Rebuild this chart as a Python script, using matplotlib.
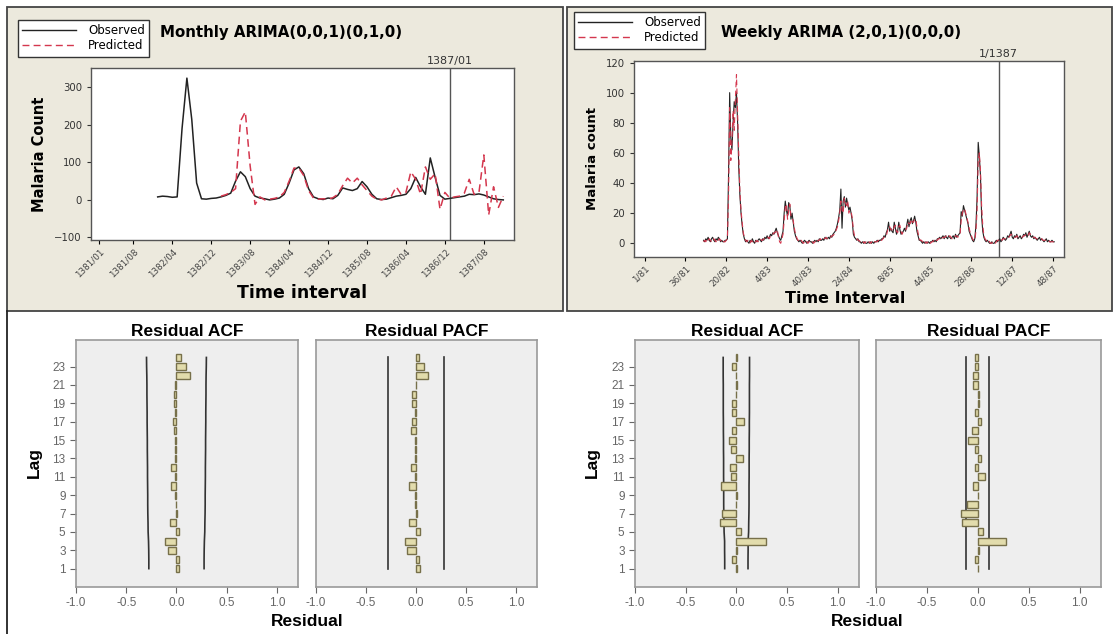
import numpy as np
import matplotlib.pyplot as plt
from matplotlib.patches import Rectangle
from matplotlib.lines import Line2D

W, H = 1118, 634

# ---- monthly series (month index 0 = 1381/01) ----
month_start_obs = 12
monthly_observed = [8, 10, 9, 7, 8, 190, 325, 215, 45, 3,
                    2, 4, 5, 8, 12, 18, 50, 75, 62, 30,
                    10, 5, 3, 0, 2, 5, 15, 45, 80, 88,
                    70, 30, 8, 3, 1, 5, 3, 12, 32, 28,
                    25, 30, 49, 35, 15, 3, 1, 2, 6, 10,
                    12, 15, 30, 60, 35, 15, 112, 60, 12, 2,
                    4, 6, 8, 10, 15, 14, 16, 13, 8, 3,
                    1, 0]
month_start_pred = 25
monthly_predicted = [10, 14, 20, 30, 210, 235, 90, -12, 8, 0,
                     2, 4, 8, 20, 50, 85, 85, 65, 25, 5,
                     2, 3, 2, 6, 15, 38, 58, 45, 58, 40,
                     25, 10, 2, 0, 5, 10, 35, 15, 20, 75,
                     55, 15, 88, 55, 70, -25, 20, 5, 8, 10,
                     18, 55, 15, 20, 120, -40, 35, -20, 10]
month_tick_pos = [0, 7, 15, 23, 31, 39, 47, 55, 63, 71, 79]
month_tick_labels = ['1381/01', '1381/08', '1382/04', '1382/12', '1383/08',
                     '1384/04', '1384/12', '1385/08', '1386/04', '1386/12',
                     '1387/08']
month_split = 72

# ---- weekly series (week index 0 = 1/81) ----
week_start = 52
weekly_observed = [2, 1, 3, 2, 4, 2, 1, 3, 4, 2,
                   1, 3, 2, 4, 3, 1, 2, 1, 1, 2,
                   2, 3, 45, 100, 70, 62, 80, 94, 90, 100,
                   80, 50, 32, 20, 12, 6, 3, 1, 2,
                   1, 0, 2, 1, 3, 1, 0, 2, 1, 2,
                   3, 2, 1, 3, 2, 4, 3, 5, 3, 4,
                   6, 5, 7, 6, 8, 10, 7, 5, 3, 2,
                   5, 8, 20, 28, 22, 18, 27, 25, 16, 20,
                   14, 8, 5, 3, 2, 1, 2, 1, 0, 1,
                   2, 1, 0, 1, 2, 1, 1, 0, 1, 2,
                   1, 2, 1, 3, 2, 2, 3, 2, 4, 3,
                   3, 4, 3, 5, 4, 6, 7, 8, 10, 13,
                   17, 22, 36, 10, 28, 31, 24, 30, 26, 22,
                   24, 20, 15, 6, 4, 3, 2, 3, 1, 1,
                   0, 1, 0, 1, 0, 0, 1, 0, 1, 0,
                   1, 0, 1, 1, 2, 1, 2, 2, 3, 3,
                   5, 4, 7, 9, 14, 8, 10, 8, 7, 14,
                   10, 6, 8, 14, 9, 6, 7, 8, 10, 8,
                   12, 16, 11, 15, 17, 13, 15, 18, 14, 8,
                   5, 2, 2, 1, 0, 1, 0, 1, 0, 1,
                   0, 1, 1, 2, 1, 2, 1, 3, 3, 4,
                   3, 4, 5, 3, 5, 4, 3, 5, 4, 3,
                   4, 5, 3, 6, 4, 5, 6, 7, 21, 18,
                   25, 22, 19, 16, 13, 8, 6, 4, 2, 1,
                   3, 12, 30, 67, 58, 45, 18, 8, 4, 2,
                   1, 2, 1, 0, 0, 1, 0, 0, 1, 2,
                   1, 2, 3, 1, 2, 4, 3, 2, 3, 5,
                   4, 6, 8, 4, 3, 5, 4, 6, 3, 4,
                   5, 3, 4, 6, 5, 7, 4, 6, 8, 5,
                   4, 5, 3, 4, 3, 2, 3, 4, 2, 3,
                   2, 1, 2, 3, 1, 2, 1, 1, 2, 1, 1]
weekly_predicted = [1, 2, 1, 3, 2, 3, 2, 1, 2, 3,
                    2, 1, 3, 2, 3, 2, 1, 2, 1, 1,
                    2, 3, 30, 90, 55, 68, 88, 75, 95, 112,
                    85, 60, 35, 22, 14, 7, 4, 2, 1,
                    2, 1, 0, 2, 1, 2, 1, 1, 2, 1,
                    2, 3, 2, 2, 3, 3, 4, 4, 4, 3,
                    5, 6, 6, 7, 7, 8, 9, 4, 1, 0,
                    3, 6, 15, 24, 26, 16, 22, 26, 18, 17,
                    15, 10, 6, 4, 2, 2, 1, 2, 1, 0,
                    1, 2, 1, 0, 1, 2, 1, 1, 0, 1,
                    2, 1, 2, 2, 3, 2, 2, 3, 3, 4,
                    3, 3, 4, 4, 5, 5, 6, 7, 9, 11,
                    15, 20, 28, 22, 20, 30, 27, 25, 28, 20,
                    22, 21, 17, 9, 5, 4, 3, 2, 2, 1,
                    1, 0, 1, 0, 1, 0, 0, 1, 0, 1,
                    0, 1, 1, 1, 1, 2, 1, 2, 2, 3,
                    4, 5, 5, 8, 11, 11, 9, 9, 8, 11,
                    12, 8, 7, 11, 12, 8, 6, 8, 9, 9,
                    10, 14, 13, 13, 16, 14, 14, 16, 16, 11,
                    7, 3, 2, 2, 1, 0, 1, 0, 1, 0,
                    1, 0, 1, 1, 2, 1, 2, 2, 3, 3,
                    4, 3, 4, 4, 4, 5, 4, 4, 5, 4,
                    3, 4, 4, 5, 5, 4, 5, 6, 15, 20,
                    22, 23, 20, 17, 14, 10, 7, 5, 3, 2,
                    2, 8, 22, 55, 60, 48, 25, 12, 5, 3,
                    2, 1, 2, 1, 0, 0, 1, 0, 0, 1,
                    2, 2, 2, 3, 2, 3, 3, 3, 3, 4,
                    4, 5, 6, 5, 4, 4, 4, 5, 4, 4,
                    4, 4, 4, 5, 5, 6, 5, 5, 7, 6,
                    5, 4, 4, 4, 3, 3, 3, 3, 3, 3,
                    2, 2, 2, 2, 2, 2, 1, 1, 1, 1, 1]
week_tick_pos = [0, 36, 72, 108, 144, 180, 216, 252, 288, 324, 360]
week_tick_labels = ['1/81', '36/81', '20/82', '4/83', '40/83', '24/84',
                    '8/85', '44/85', '28/86', '12/87', '48/87']
week_split = 312

# ---- residual ACF / PACF, lags 1..24 ----
lags = list(range(1, 25))
acf_month = [0.03, 0.03, -0.08, -0.11, 0.03, -0.06, 0.01, -0.005, -0.01, -0.05,
             -0.01, -0.05, -0.01, -0.01, -0.01, -0.02, -0.03, -0.01, -0.02, -0.02,
             -0.01, 0.13, 0.10, 0.05]
pacf_month = [0.04, 0.03, -0.09, -0.11, 0.04, -0.07, 0.01, -0.01, -0.01, -0.07,
              -0.01, -0.05, -0.01, -0.01, -0.01, -0.05, -0.04, -0.01, -0.04, -0.04,
              -0.005, 0.12, 0.08, 0.03]
acf_week = [0.005, -0.04, 0.01, 0.29, 0.05, -0.16, -0.14, -0.005, 0.01, -0.15,
            -0.05, -0.06, 0.07, -0.05, -0.07, -0.04, 0.08, -0.04, -0.04, -0.005,
            0.005, -0.005, -0.04, 0.005]
pacf_week = [0.005, -0.03, 0.01, 0.28, 0.05, -0.16, -0.17, -0.11, 0.005, -0.05,
             0.07, -0.03, 0.03, -0.03, -0.10, -0.06, 0.03, -0.03, 0.01, 0.01,
             -0.05, -0.05, -0.03, -0.03]
acf_month_bound = [0.275, 0.275, 0.276, 0.278, 0.282, 0.283, 0.285, 0.286, 0.286, 0.287,
                   0.288, 0.288, 0.289, 0.290, 0.290, 0.291, 0.292, 0.292, 0.293, 0.294,
                   0.294, 0.295, 0.297, 0.298]
pacf_month_bound = 0.28
acf_week_bound = [0.115, 0.115, 0.116, 0.116, 0.121, 0.122, 0.124, 0.125, 0.125, 0.125,
                  0.126, 0.126, 0.126, 0.127, 0.127, 0.128, 0.128, 0.129, 0.129, 0.129,
                  0.129, 0.13, 0.13, 0.13]
pacf_week_bound = 0.112

BEIGE = '#ECE9DD'
RED = '#D4374E'
BAR_FC = '#E2DCAC'
BAR_EC = '#77704A'

fig = plt.figure(figsize=(W / 100, H / 100), dpi=100)
fig.patch.set_facecolor('white')


def px_axes(l, t, r, b):
    return fig.add_axes([l / W, 1 - b / H, (r - l) / W, (b - t) / H])


def ftext(x, y, s, **kw):
    return fig.text(x / W, 1 - y / H, s, **kw)


def fbox(l, t, r, b, **kw):
    fig.add_artist(Rectangle((l / W, 1 - b / H), (r - l) / W, (b - t) / H,
                             transform=fig.transFigure, **kw))


# panel backgrounds
fbox(7, 7, 563, 311, fc=BEIGE, ec='#444444', lw=1.3, zorder=0)
fbox(567, 7, 1112, 311, fc=BEIGE, ec='#444444', lw=1.3, zorder=0)
fig.add_artist(Line2D([7 / W, 7 / W], [0, 1 - 311 / H], transform=fig.transFigure,
                      color='#222222', lw=1.3))


def ts_panel(ax, x_obs, y_obs, x_pred, y_pred, split, split_lbl, ticks, tick_lbls,
             xlim, ylim, yticks, lw):
    ax.plot(x_obs, y_obs, color='#222222', lw=lw, zorder=3)
    ax.plot(x_pred, y_pred, color=RED, lw=lw, ls=(0, (5, 3)), zorder=4)
    ax.axvline(split, color='#555555', lw=1.0, zorder=2)
    ax.text(split, 1.01, split_lbl, transform=ax.get_xaxis_transform(),
            ha='center', va='bottom', fontsize=8, color='#333333')
    ax.set_xlim(*xlim)
    ax.set_ylim(*ylim)
    ax.set_xticks(ticks)
    ax.set_xticklabels(tick_lbls, rotation=45, ha='right', rotation_mode='anchor',
                       fontsize=6.3, color='#444444')
    ax.set_yticks(yticks)
    ax.tick_params(axis='y', labelsize=7.3, colors='#333333', length=3)
    ax.tick_params(axis='x', length=3, pad=2)
    for s in ax.spines.values():
        s.set_color('#555555')
        s.set_linewidth(1.0)


def legend_box(x, y):
    h_obs = Line2D([], [], color='#222222', lw=1.0)
    h_pred = Line2D([], [], color=RED, lw=1.0, ls=(0, (5, 3)))
    fig.legend([h_obs, h_pred], ['Observed', 'Predicted'], loc='upper left',
               bbox_to_anchor=(x / W, 1 - y / H), fontsize=8.5, frameon=True,
               fancybox=False, edgecolor='#333333', framealpha=1, borderpad=0.35,
               handlelength=4.6, labelspacing=0.2, handletextpad=1.0,
               borderaxespad=0)


# ---- monthly panel ----
ax1 = px_axes(91, 68, 514, 240)
xo = np.arange(month_start_obs, month_start_obs + len(monthly_observed))
xp = np.arange(month_start_pred, month_start_pred + len(monthly_predicted))
ts_panel(ax1, xo, monthly_observed, xp, monthly_predicted, month_split, '1387/01',
         month_tick_pos, month_tick_labels, (-1.7, 85.2), (-107, 352),
         [-100, 0, 100, 200, 300], 1.1)
ax1.set_ylabel('Malaria Count', fontsize=10.5, fontweight='bold', labelpad=5)
ftext(302, 293, 'Time interval', ha='center', va='center', fontsize=12.5,
      fontweight='bold')
ftext(160, 32, 'Monthly ARIMA(0,0,1)(0,1,0)', ha='left', va='center',
      fontsize=10.8, fontweight='bold')
legend_box(18, 20)

# ---- weekly panel ----
ax2 = px_axes(634, 61, 1064, 257)
wo = np.arange(week_start, week_start + len(weekly_observed))
wp = np.arange(week_start, week_start + len(weekly_predicted))
ts_panel(ax2, wo, weekly_observed, wp, weekly_predicted, week_split, '1/1387',
         week_tick_pos, week_tick_labels, (-9.3, 369.6), (-9.1, 121),
         [0, 20, 40, 60, 80, 100, 120], 0.8)
ax2.set_ylabel('Malaria count', fontsize=9.5, fontweight='bold', labelpad=5)
ftext(845, 299, 'Time Interval', ha='center', va='center', fontsize=11.5,
      fontweight='bold')
ftext(721, 32, 'Weekly ARIMA (2,0,1)(0,0,0)', ha='left', va='center',
      fontsize=10.8, fontweight='bold')
legend_box(574, 12)


# ---- residual ACF / PACF panels ----
def resid_panel(ax, vals, bound, title, show_y):
    ax.set_facecolor('#EEEEEE')
    ax.barh(lags, vals, height=0.78, color=BAR_FC, edgecolor=BAR_EC, lw=1.0, zorder=3)
    b = np.broadcast_to(np.asarray(bound, dtype=float), (len(lags),))
    ax.plot(b, lags, color='#333333', lw=1.2, zorder=2)
    ax.plot(-b, lags, color='#333333', lw=1.2, zorder=2)
    ax.set_xlim(-1.0, 1.21)
    ax.set_ylim(-1.0, 25.9)
    ax.set_xticks([-1.0, -0.5, 0.0, 0.5, 1.0])
    ax.set_xticklabels(['-1.0', '-0.5', '0.0', '0.5', '1.0'])
    ax.set_yticks(list(range(1, 24, 2)))
    ax.tick_params(labelsize=8.5, colors='#666666', length=4)
    if not show_y:
        ax.tick_params(axis='y', left=False, labelleft=False)
    for s in ax.spines.values():
        s.set_color('#999999')
        s.set_linewidth(1.2)
    ax.set_title(title, fontsize=12.5, fontweight='bold', family='Liberation Sans',
                 pad=3)
    for lbl in ax.get_xticklabels() + ax.get_yticklabels():
        lbl.set_family('Liberation Sans')


ax3 = px_axes(76, 340, 298, 587)
resid_panel(ax3, acf_month, acf_month_bound, 'Residual ACF', True)
ax4 = px_axes(316, 340, 537, 587)
resid_panel(ax4, pacf_month, pacf_month_bound, 'Residual PACF', False)
ax5 = px_axes(635, 340, 859, 587)
resid_panel(ax5, acf_week, acf_week_bound, 'Residual ACF', True)
ax6 = px_axes(876, 340, 1101, 587)
resid_panel(ax6, pacf_week, pacf_week_bound, 'Residual PACF', False)

for x in (34, 592):
    ftext(x, 463, 'Lag', rotation=90, ha='center', va='center', fontsize=12.5,
          fontweight='bold', family='Liberation Sans')
for x in (307, 867):
    ftext(x, 621, 'Residual', ha='center', va='center', fontsize=12.5,
          fontweight='bold', family='Liberation Sans')

fig.savefig('out.png', dpi=100)
